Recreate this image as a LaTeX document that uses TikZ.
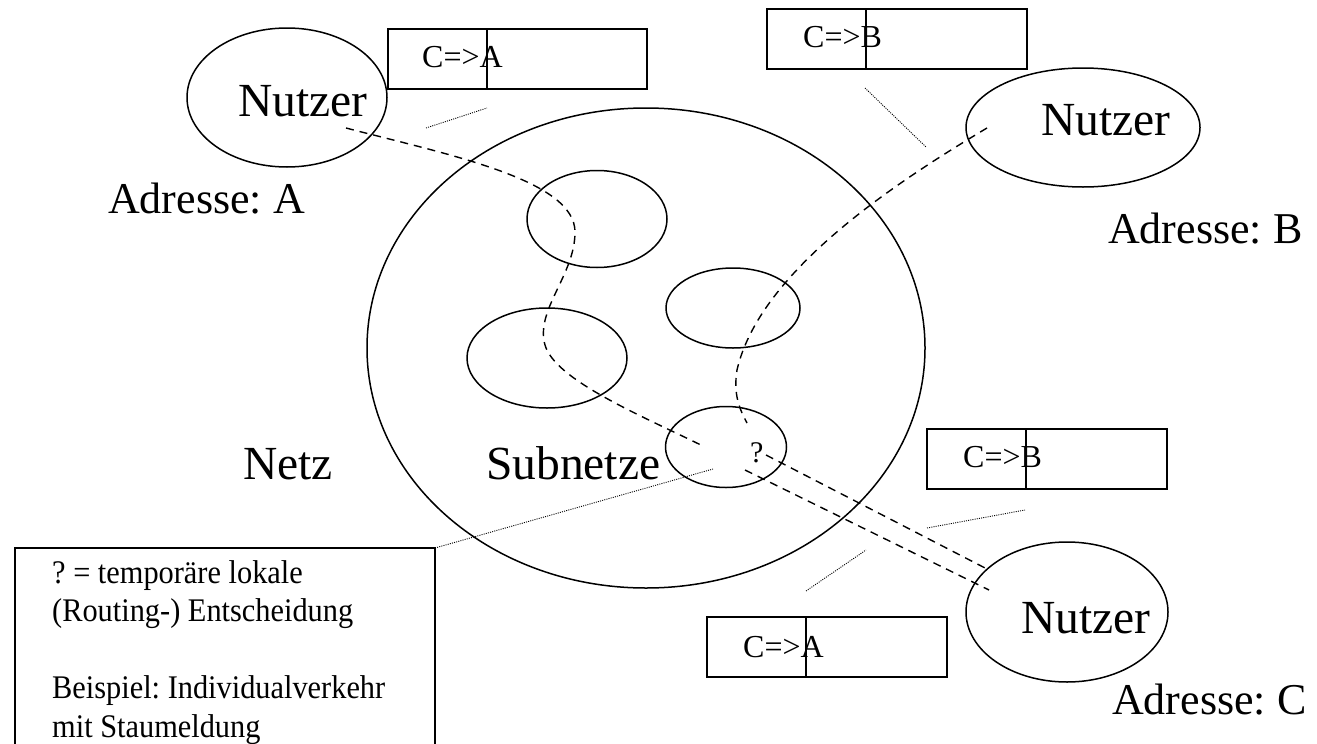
\documentclass[tikz,border=0pt]{standalone}
\usepackage{fontspec}
\setmainfont{Liberation Serif}
\newfontfamily\notefont[FakeStretch=0.92]{Liberation Serif}
\usetikzlibrary{shapes.geometric}
\frenchspacing
\begin{document}
\begin{tikzpicture}[x=1pt,y=-1pt,
  outline/.style={draw=black, line width=1.5pt},
  blob/.style={outline, ellipse, inner sep=0pt},
  slot/.style={outline, rectangle, inner sep=0pt, minimum height=60pt, anchor=north west},
  big/.style={font=\fontsize{44}{50}\selectfont, inner sep=0pt, anchor=base west},
  bigger/.style={big, font=\fontsize{47.5}{52}\selectfont},
  small/.style={font=\fontsize{32}{36}\selectfont, inner sep=0pt, anchor=base west},
  route/.style={line width=1.4pt, dash pattern=on 8pt off 6pt},
  hint/.style={line width=0.9pt, dash pattern=on 1pt off 1.2pt},
]
\useasboundingbox (0,0) rectangle (1317,744);

% network and its subnets
\node[blob, minimum width=558pt, minimum height=480pt] (netz) at (646,348) {};
\node[blob, minimum width=140pt, minimum height=97pt]  (s1) at (597,219) {};
\node[blob, minimum width=134pt, minimum height=80pt]  (s2) at (733,308) {};
\node[blob, minimum width=160pt, minimum height=100pt] (s3) at (547,358) {};
\node[blob, minimum width=121pt, minimum height=81pt]  (s4) at (726,447) {};
\node[small, font=\fontsize{30}{34}\selectfont] (q) at (750,462) {?};

\node[bigger] (netzlbl) at (243,479) {Netz};
\node[bigger] (sublbl) at (486,479) {Subnetze};

% users
\node[blob, minimum width=200pt, minimum height=139pt] (uA) at (287,97.5) {};
\node[bigger] (uAlbl) at (238,116) {Nutzer};
\node[big] (adrA) at (108,213) {Adresse: A};

\node[blob, minimum width=234pt, minimum height=119pt] (uB) at (1083,127.5) {};
\node[bigger] (uBlbl) at (1041,135) {Nutzer};
\node[big] (adrB) at (1108,243) {Adresse: B};

\node[blob, minimum width=202pt, minimum height=140pt] (uC) at (1067,612) {};
\node[bigger] (uClbl) at (1021,633) {Nutzer};
\node[big] (adrC) at (1112,714) {Adresse: C};

% routing table entries
\node[slot, minimum width=259pt] (tA) at (387,28) {};
\draw[outline] ([xshift=100pt]tA.north west) -- ([xshift=100pt]tA.south west);
\node[small] (tAtxt) at (422,67) {C=>A};

\node[slot, minimum width=260pt] (tB) at (766,8) {};
\draw[outline] ([xshift=100pt]tB.north west) -- ([xshift=100pt]tB.south west);
\node[small] (tBtxt) at (803,47) {C=>B};

\node[slot, minimum width=240pt] (tC1) at (926,428) {};
\draw[outline] ([xshift=100pt]tC1.north west) -- ([xshift=100pt]tC1.south west);
\node[small] (tC1txt) at (963,467) {C=>B};

\node[slot, minimum width=240pt] (tC2) at (706,616) {};
\draw[outline] ([xshift=100pt]tC2.north west) -- ([xshift=100pt]tC2.south west);
\node[small] (tC2txt) at (743,657) {C=>A};

% explanation box, open towards the bottom edge
\draw[outline] (15,744) -- (15,548) coordinate (noteTL) -- (435,548) coordinate (noteTR) -- (435,744);
\node[anchor=north west, inner sep=0pt, align=left, font=\notefont\fontsize{33}{38.5}\selectfont] (note) at (52,560)
  {? = temporäre lokale\\(Routing-) Entscheidung\\[38.5pt]Beispiel: Individualverkehr\\mit Staumeldung};

% dotted leader lines
\coordinate (hA0) at (426,128); \coordinate (hA1) at (487,108);
\coordinate (hB0) at (865,88);  \coordinate (hB1) at (926,147);
\coordinate (hC0) at (927,528); \coordinate (hC1) at (1025,510);
\coordinate (hD0) at (806,591); \coordinate (hD1) at (866,550);
\coordinate (hQ)  at (713,469);
\draw[hint] (hA0) -- (hA1);
\draw[hint] (hB0) -- (hB1);
\draw[hint] (hC0) -- (hC1);
\draw[hint] (hD0) -- (hD1);
\draw[hint] (noteTR) -- (hQ);

% dashed routes
\coordinate (pa0) at (346,128); \coordinate (pa1) at (705,447);
\coordinate (pb0) at (987,128); \coordinate (pb1) at (747,423);
\coordinate (pc0) at (766,455); \coordinate (pc1) at (987,569);
\coordinate (pd0) at (745,470); \coordinate (pd1) at (989,590);
\draw[route] (pa0) .. controls (450,155) and (575,180) .. (575,232)
  .. controls (575,275) and (535,310) .. (545,345)
  .. controls (555,380) and (640,415) .. (pa1);
\draw[route] (pb0) .. controls (900,180) and (760,270) .. (737,370)
  .. controls (733,395) and (740,410) .. (pb1);
\draw[route] (pc0) -- (pc1);
\draw[route] (pd0) -- (pd1);
\end{tikzpicture}
\end{document}
